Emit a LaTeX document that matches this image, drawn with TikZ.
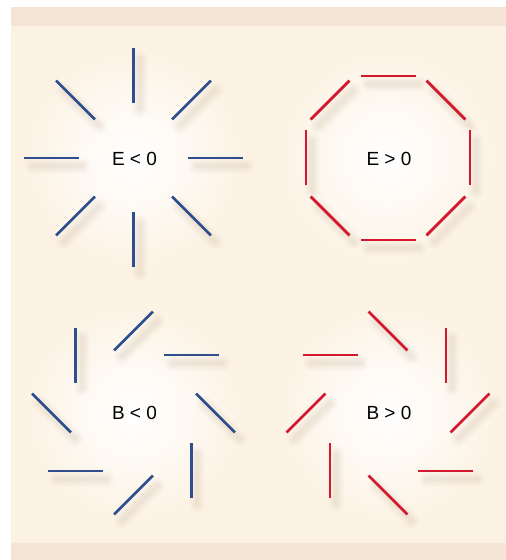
\documentclass[tikz,border=0pt]{standalone}
\usepackage{fontspec}
\setmainfont{Liberation Sans}
\usetikzlibrary{calc}
\definecolor{paper}{HTML}{FCF2E3}
\definecolor{paperband}{HTML}{F4E5D4}
\definecolor{fieldblue}{HTML}{2E4E8E}
\definecolor{fieldred}{HTML}{D3172C}
\definecolor{umber}{HTML}{7A5A35}
\tikzset{
  % pinnar
  stick/.style={line width=2.8pt,line cap=butt},
  eneg/.style={stick,draw=fieldblue},
  epos/.style={stick,draw=fieldred},
  bneg/.style={stick,draw=fieldblue},
  bpos/.style={stick,draw=fieldred},
  sha/.style={draw=umber,line cap=round,line width=16pt,opacity=0.02},
  shb/.style={draw=umber,line cap=round,line width=12pt,opacity=0.025},
  shc/.style={draw=umber,line cap=round,line width=8pt,opacity=0.03},
  shd/.style={draw=umber,line cap=round,line width=4pt,opacity=0.03},
  glow/.style={inner color=white,outer color=paper},
  lbl/.style={font=\fontsize{19}{19}\selectfont,inner sep=0pt,text=black},
}
\begin{document}
\begin{tikzpicture}[x=1pt,y=1pt]
\useasboundingbox (0,0) rectangle (506,560);
  % bakgrund
  \fill[paper] (11,0) rectangle (506,553);
  \fill[paperband] (11,534) rectangle (506,553);
  \fill[paperband] (11,0) rectangle (506,17);
  \coordinate (el) at (133.5,402);
  \coordinate (eg) at (388,402);
  \coordinate (bl) at (133.5,147);
  \coordinate (bg) at (388,147);
  \foreach \p in {el,eg,bl,bg}
    \shade[glow] (\p) circle (115);
  % skuggor och pinnar
  \foreach \p/\r/\s in {el/0/eneg,eg/90/epos,bl/-45/bneg,bg/45/bpos}{
    \begin{scope}[shift={(\p)}]
    \foreach \a in {0,45,...,315}{
      \foreach \k in {sha,shb,shc,shd}
        \draw[\k] ($(\a:82)+(\a+\r:25)+(6,-8)$) -- ($(\a:82)+(\a+\r+180:25)+(6,-8)$);
    }
    \foreach \a in {0,45,...,315}
      \draw[\s] ($(\a:82)+(\a+\r:27.5)$) -- ($(\a:82)+(\a+\r+180:27.5)$);
    \end{scope}
  }
  \node[lbl] (elt) at ($(el)+(1,-1)$) {E < 0};
  \node[lbl] (egt) at ($(eg)+(1,-1)$) {E > 0};
  \node[lbl] (blt) at ($(bl)+(1,0)$) {B < 0};
  \node[lbl] (bgt) at ($(bg)+(1,0)$) {B > 0};
\end{tikzpicture}
\end{document}
